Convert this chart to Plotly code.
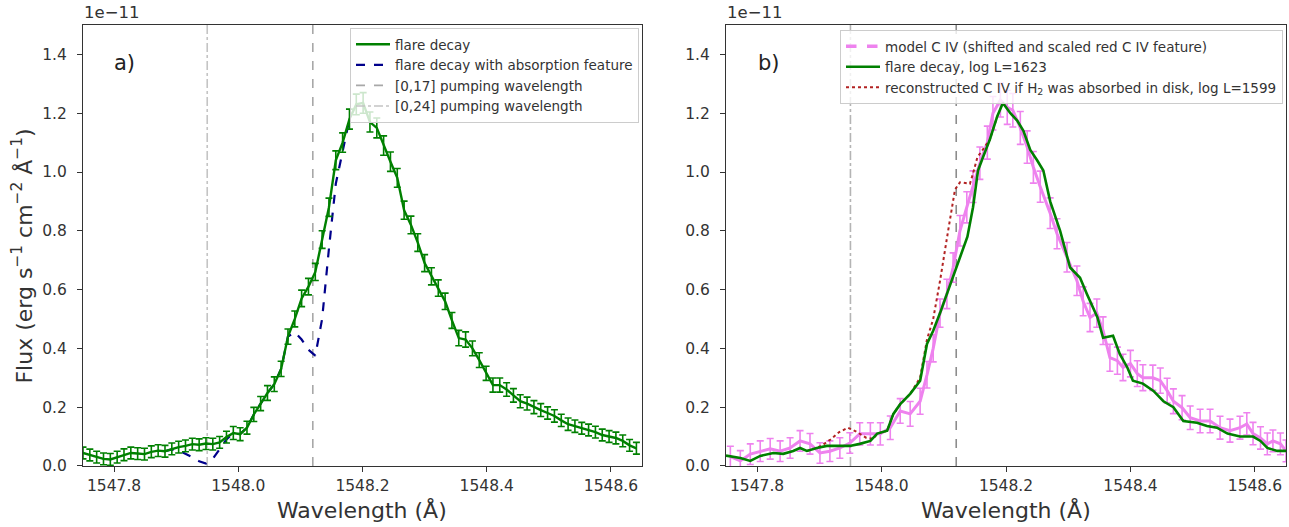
import plotly.graph_objects as go

# ---------------- data (flux in units of 1e-11 erg s^-1 cm^-2 A^-1) ----------------
X_RANGE = [1547.75, 1548.65]
Y_RANGE = [0.0, 1.5]
pump_labels = ["[0,17] pumping wavelength", "[0,24] pumping wavelength"]
pump_wavelengths = [1548.12, 1547.95]

# panel a) flare decay (green, with error bars)
wl_a = [1547.750, 1547.761, 1547.772, 1547.783, 1547.794, 1547.805, 1547.816, 1547.827,
        1547.838, 1547.849, 1547.860, 1547.871, 1547.882, 1547.893, 1547.904, 1547.915,
        1547.926, 1547.937, 1547.948, 1547.959, 1547.970, 1547.981, 1547.992, 1548.003,
        1548.014, 1548.025, 1548.036, 1548.047, 1548.058, 1548.069, 1548.080, 1548.091,
        1548.102, 1548.113, 1548.124, 1548.135, 1548.146, 1548.157, 1548.168, 1548.179,
        1548.190, 1548.201, 1548.212, 1548.223, 1548.234, 1548.245, 1548.256, 1548.267,
        1548.278, 1548.289, 1548.300, 1548.311, 1548.322, 1548.333, 1548.344, 1548.355,
        1548.366, 1548.377, 1548.388, 1548.399, 1548.410, 1548.421, 1548.432, 1548.443,
        1548.454, 1548.465, 1548.476, 1548.487, 1548.498, 1548.509, 1548.520, 1548.531,
        1548.542, 1548.553, 1548.564, 1548.575, 1548.586, 1548.597, 1548.608, 1548.619,
        1548.630, 1548.641]
flux_a = [0.044, 0.037, 0.030, 0.024, 0.022, 0.030, 0.038, 0.044,
          0.042, 0.040, 0.048, 0.052, 0.050, 0.058, 0.064, 0.068,
          0.074, 0.072, 0.076, 0.074, 0.080, 0.098, 0.112, 0.108,
          0.130, 0.175, 0.212, 0.248, 0.278, 0.330, 0.440, 0.500,
          0.570, 0.610, 0.660, 0.770, 0.880, 1.040, 1.100, 1.180,
          1.230, 1.235, 1.170, 1.150, 1.090, 1.035, 0.980, 0.870,
          0.820, 0.760, 0.690, 0.645, 0.605, 0.560, 0.495, 0.435,
          0.430, 0.400, 0.360, 0.315, 0.275, 0.275, 0.260, 0.240,
          0.220, 0.212, 0.200, 0.190, 0.180, 0.170, 0.155, 0.142,
          0.135, 0.128, 0.122, 0.115, 0.105, 0.100, 0.095, 0.085,
          0.070, 0.060]
err_a = [0.020, 0.020, 0.020, 0.020, 0.020, 0.020, 0.020, 0.020,
         0.020, 0.020, 0.020, 0.020, 0.020, 0.020, 0.020, 0.020,
         0.020, 0.020, 0.020, 0.020, 0.020, 0.020, 0.022, 0.022,
         0.022, 0.024, 0.024, 0.025, 0.025, 0.026, 0.026, 0.027,
         0.028, 0.028, 0.029, 0.030, 0.031, 0.032, 0.033, 0.034,
         0.035, 0.035, 0.034, 0.034, 0.033, 0.033, 0.032, 0.031,
         0.030, 0.030, 0.029, 0.029, 0.028, 0.028, 0.027, 0.026,
         0.026, 0.025, 0.025, 0.024, 0.024, 0.024, 0.023, 0.023,
         0.022, 0.022, 0.022, 0.022, 0.021, 0.021, 0.021, 0.021,
         0.021, 0.020, 0.020, 0.020, 0.020, 0.020, 0.020, 0.020,
         0.020, 0.020]

# panel a) flare decay with absorption feature (dark blue dashed)
wl_abs = [1547.882, 1547.893, 1547.904, 1547.915, 1547.926, 1547.937, 1547.948, 1547.959,
          1547.970, 1547.981, 1547.992, 1548.003, 1548.014, 1548.025, 1548.036, 1548.047,
          1548.058, 1548.069, 1548.080, 1548.091, 1548.102, 1548.113, 1548.124, 1548.135,
          1548.146, 1548.157, 1548.168, 1548.179]
flux_abs = [0.050, 0.056, 0.052, 0.042, 0.030, 0.016, 0.008, 0.024,
            0.055, 0.090, 0.112, 0.108, 0.130, 0.175, 0.212, 0.248,
            0.278, 0.330, 0.440, 0.455, 0.430, 0.395, 0.375, 0.500,
            0.740, 0.960, 1.070, 1.180]

# panel b) model C IV (violet, with error bars)
wl_model = [1547.757, 1547.773, 1547.789, 1547.805, 1547.821, 1547.837, 1547.853, 1547.869, 1547.885,
            1547.901, 1547.917, 1547.933, 1547.949, 1547.965, 1547.982, 1547.998, 1548.014,
            1548.030, 1548.046, 1548.062, 1548.073, 1548.083, 1548.094, 1548.105, 1548.115,
            1548.126, 1548.137, 1548.147, 1548.158, 1548.170, 1548.179, 1548.191, 1548.202,
            1548.211, 1548.223, 1548.234, 1548.244, 1548.255, 1548.271, 1548.282, 1548.298,
            1548.314, 1548.324, 1548.335, 1548.346, 1548.356, 1548.367, 1548.379, 1548.388,
            1548.400, 1548.411, 1548.420, 1548.436, 1548.448, 1548.459, 1548.469, 1548.483,
            1548.496, 1548.512, 1548.528, 1548.544, 1548.560, 1548.576, 1548.587, 1548.597,
            1548.609, 1548.620, 1548.629, 1548.641, 1548.650]
flux_model = [0.032, 0.017, 0.040, 0.050, 0.058, 0.050, 0.061, 0.085, 0.075,
              0.044, 0.050, 0.061, 0.078, 0.109, 0.109, 0.109, 0.130,
              0.187, 0.177, 0.220, 0.310, 0.400, 0.520, 0.585, 0.675,
              0.800, 0.880, 0.950, 1.030, 1.100, 1.200, 1.245, 1.220,
              1.210, 1.150, 1.085, 1.016, 0.950, 0.860, 0.790, 0.710,
              0.630, 0.560, 0.505, 0.520, 0.460, 0.368, 0.358, 0.335,
              0.348, 0.314, 0.300, 0.300, 0.290, 0.256, 0.220, 0.198,
              0.164, 0.153, 0.153, 0.130, 0.120, 0.130, 0.143, 0.110,
              0.095, 0.075, 0.085, 0.075, 0.051]
err_model = [0.035, 0.035, 0.035, 0.035, 0.035, 0.035, 0.035, 0.035, 0.035,
             0.035, 0.035, 0.035, 0.035, 0.038, 0.038, 0.038, 0.040,
             0.042, 0.042, 0.044, 0.045, 0.046, 0.048, 0.050, 0.050,
             0.052, 0.053, 0.054, 0.055, 0.056, 0.057, 0.058, 0.058,
             0.057, 0.056, 0.055, 0.054, 0.053, 0.052, 0.051, 0.050,
             0.050, 0.049, 0.048, 0.048, 0.047, 0.046, 0.046, 0.045,
             0.045, 0.044, 0.044, 0.043, 0.043, 0.042, 0.042, 0.041,
             0.040, 0.040, 0.040, 0.039, 0.039, 0.039, 0.038, 0.038,
             0.038, 0.037, 0.037, 0.037, 0.037]

# panel b) flare decay (green line)
wl_b = [1547.750, 1547.773, 1547.789, 1547.805, 1547.826, 1547.842, 1547.858, 1547.869,
        1547.880, 1547.896, 1547.912, 1547.933, 1547.949, 1547.965, 1547.982, 1547.993,
        1548.009, 1548.019, 1548.030, 1548.046, 1548.062, 1548.073, 1548.083, 1548.094,
        1548.105, 1548.115, 1548.126, 1548.138, 1548.147, 1548.155, 1548.163, 1548.174,
        1548.186, 1548.195, 1548.207, 1548.218, 1548.228, 1548.239, 1548.250, 1548.260,
        1548.271, 1548.287, 1548.303, 1548.319, 1548.330, 1548.347, 1548.356, 1548.372,
        1548.383, 1548.395, 1548.404, 1548.420, 1548.437, 1548.453, 1548.469, 1548.485,
        1548.507, 1548.523, 1548.539, 1548.556, 1548.576, 1548.597, 1548.609, 1548.620,
        1548.636, 1548.650]
flux_b = [0.035, 0.027, 0.017, 0.034, 0.044, 0.041, 0.051, 0.061,
          0.051, 0.061, 0.068, 0.068, 0.068, 0.075, 0.085, 0.110,
          0.120, 0.177, 0.210, 0.245, 0.290, 0.415, 0.460, 0.520,
          0.585, 0.640, 0.710, 0.780, 0.880, 1.005, 1.050, 1.110,
          1.190, 1.235, 1.200, 1.175, 1.140, 1.075, 1.040, 1.005,
          0.900, 0.800, 0.675, 0.640, 0.585, 0.505, 0.436, 0.443,
          0.380, 0.335, 0.290, 0.280, 0.255, 0.220, 0.200, 0.153,
          0.147, 0.136, 0.130, 0.110, 0.100, 0.100, 0.085, 0.061,
          0.051, 0.051]

# panel b) reconstructed C IV (red dotted)
wl_rec = [1547.880, 1547.896, 1547.906, 1547.918, 1547.932, 1547.946, 1547.960, 1547.975,
          1547.987, 1547.993, 1548.009, 1548.019, 1548.030, 1548.046, 1548.062, 1548.073,
          1548.083, 1548.094, 1548.107, 1548.118, 1548.126, 1548.142, 1548.147, 1548.154,
          1548.162, 1548.174, 1548.186]
flux_rec = [0.051, 0.061, 0.072, 0.090, 0.115, 0.130, 0.116, 0.096,
            0.092, 0.110, 0.120, 0.177, 0.210, 0.245, 0.300, 0.430,
            0.500, 0.630, 0.800, 0.940, 0.965, 0.960, 0.995, 1.050,
            1.074, 1.110, 1.190]

# ---------------- styling ----------------
FONT = "DejaVu Sans"
GREEN = "#008000"
W, H = 1289, 527
x1 = [83 / W, 642 / W]
x2 = [726 / W, 1286 / W]
ydom = [1 - 474 / H, 1 - 25.5 / H]

fig = go.Figure()

vline_styles = [("dash", "#a8a8a8"), ("dashdot", "#c4c4c4")]
vline_styles_b = [("dash", "#8c8c8c"), ("dashdot", "#b4b4b4")]

# panel a vertical lines
for lab, wl, (dash, col) in zip(pump_labels, pump_wavelengths, vline_styles):
    fig.add_trace(go.Scatter(x=[wl, wl], y=Y_RANGE, mode="lines", name=lab,
                             line=dict(color=col, width=1.6, dash=dash),
                             xaxis="x", yaxis="y", legend="legend",
                             legendrank=3 if "17" in lab else 4))
# panel b vertical lines
for lab, wl, (dash, col) in zip(pump_labels, pump_wavelengths, vline_styles_b):
    fig.add_trace(go.Scatter(x=[wl, wl], y=Y_RANGE, mode="lines", name=lab, showlegend=False,
                             line=dict(color=col, width=1.6, dash=dash),
                             xaxis="x2", yaxis="y2"))

fig.add_trace(go.Scatter(x=wl_abs, y=flux_abs, mode="lines",
                         name="flare decay with absorption feature",
                         line=dict(color="#00008B", width=2.2, dash="dash"),
                         xaxis="x", yaxis="y", legend="legend", legendrank=2))
fig.add_trace(go.Scatter(x=wl_a, y=flux_a, mode="lines", name="flare decay",
                         line=dict(color=GREEN, width=2.4),
                         error_y=dict(type="data", array=err_a, color=GREEN, thickness=1.6, width=3.5),
                         xaxis="x", yaxis="y", legend="legend", legendrank=1))

# panel b
fig.add_trace(go.Scatter(x=wl_model, y=flux_model, mode="lines", showlegend=False,
                         name="model C IV (shifted and scaled red C IV feature)",
                         line=dict(color="#EE82EE", width=3),
                         error_y=dict(type="data", array=err_model, color="#EE82EE", thickness=1.6, width=3.5),
                         xaxis="x2", yaxis="y2"))
fig.add_trace(go.Scatter(x=[None], y=[None], mode="lines",
                         name="model C IV (shifted and scaled red C IV feature)",
                         line=dict(color="#EE82EE", width=3.5, dash="dash"),
                         xaxis="x2", yaxis="y2", legend="legend2", legendrank=1))
fig.add_trace(go.Scatter(x=wl_rec, y=flux_rec, mode="lines",
                         name="reconstructed C IV if H<sub>2</sub> was absorbed in disk, log L=1599",
                         line=dict(color="#B22222", width=2, dash="dot"),
                         xaxis="x2", yaxis="y2", legend="legend2", legendrank=3))
fig.add_trace(go.Scatter(x=wl_b, y=flux_b, mode="lines", name="flare decay, log L=1623",
                         line=dict(color=GREEN, width=2.6),
                         xaxis="x2", yaxis="y2", legend="legend2", legendrank=2))

axis_common = dict(range=X_RANGE, showgrid=False, zeroline=False, showline=True,
                   linecolor="#333", linewidth=1, mirror=True, ticks="outside",
                   ticklen=5, tickwidth=1, tickcolor="#333", dtick=0.2, tick0=1547.8,
                   tickformat=".1f", tickfont=dict(family=FONT, size=15.5, color="#333"))
yaxis_common = dict(range=Y_RANGE, showgrid=False, zeroline=False, showline=True,
                    linecolor="#333", linewidth=1, mirror=True, ticks="outside",
                    ticklen=5, tickwidth=1, tickcolor="#333", dtick=0.2, tick0=0,
                    tickformat=".1f", tickfont=dict(family=FONT, size=15.5, color="#333"),
                    ticklabelstandoff=7, domain=ydom)

legend_common = dict(bgcolor="rgba(255,255,255,0.8)", bordercolor="#cccccc", borderwidth=1,
                     font=dict(family=FONT, size=13.5, color="#333"),
                     xanchor="right", yanchor="top", tracegroupgap=0, itemwidth=34)

fig.update_layout(
    width=W, height=H, autosize=False,
    margin=dict(l=0, r=0, t=0, b=0),
    paper_bgcolor="white", plot_bgcolor="white",
    font=dict(family=FONT, color="#333"),
    xaxis=dict(domain=x1, anchor="y", **axis_common),
    yaxis=dict(anchor="x", **yaxis_common),
    xaxis2=dict(domain=x2, anchor="y2", **axis_common),
    yaxis2=dict(anchor="x2", **yaxis_common),
    legend=dict(x=639 / W, y=1 - 28.5 / H, **legend_common),
    legend2=dict(x=1283 / W, y=1 - 30.5 / H, **legend_common),
    annotations=[
        dict(text="a)", x=112 / W, y=1 - 64 / H, xref="paper", yref="paper",
             xanchor="left", yanchor="middle", showarrow=False, font=dict(size=21, family=FONT, color="#222")),
        dict(text="b)", x=756 / W, y=1 - 64 / H, xref="paper", yref="paper",
             xanchor="left", yanchor="middle", showarrow=False, font=dict(size=21, family=FONT, color="#222")),
        dict(text="1e\u221211", x=82 / W, y=1 - 24 / H, xref="paper", yref="paper",
             xanchor="left", yanchor="bottom", showarrow=False, font=dict(size=16.5, family=FONT, color="#333")),
        dict(text="1e\u221211", x=725 / W, y=1 - 24 / H, xref="paper", yref="paper",
             xanchor="left", yanchor="bottom", showarrow=False, font=dict(size=16.5, family=FONT, color="#333")),
        dict(text="Wavelength (\u00c5)", x=362 / W, y=1 - 519 / H, xref="paper", yref="paper",
             xanchor="center", yanchor="middle", showarrow=False, font=dict(size=22, family=FONT, color="#333")),
        dict(text="Wavelength (\u00c5)", x=1006 / W, y=1 - 519 / H, xref="paper", yref="paper",
             xanchor="center", yanchor="middle", showarrow=False, font=dict(size=22, family=FONT, color="#333")),
        dict(text="Flux (erg s<sup>\u22121</sup> cm<sup>\u22122</sup> \u00c5<sup>\u22121</sup>)",
             x=22 / W, y=1 - 261 / H, xref="paper", yref="paper", textangle=-90,
             xanchor="center", yanchor="middle", showarrow=False, font=dict(size=22, family=FONT, color="#333")),
    ],
)

fig.write_html("out.html")
